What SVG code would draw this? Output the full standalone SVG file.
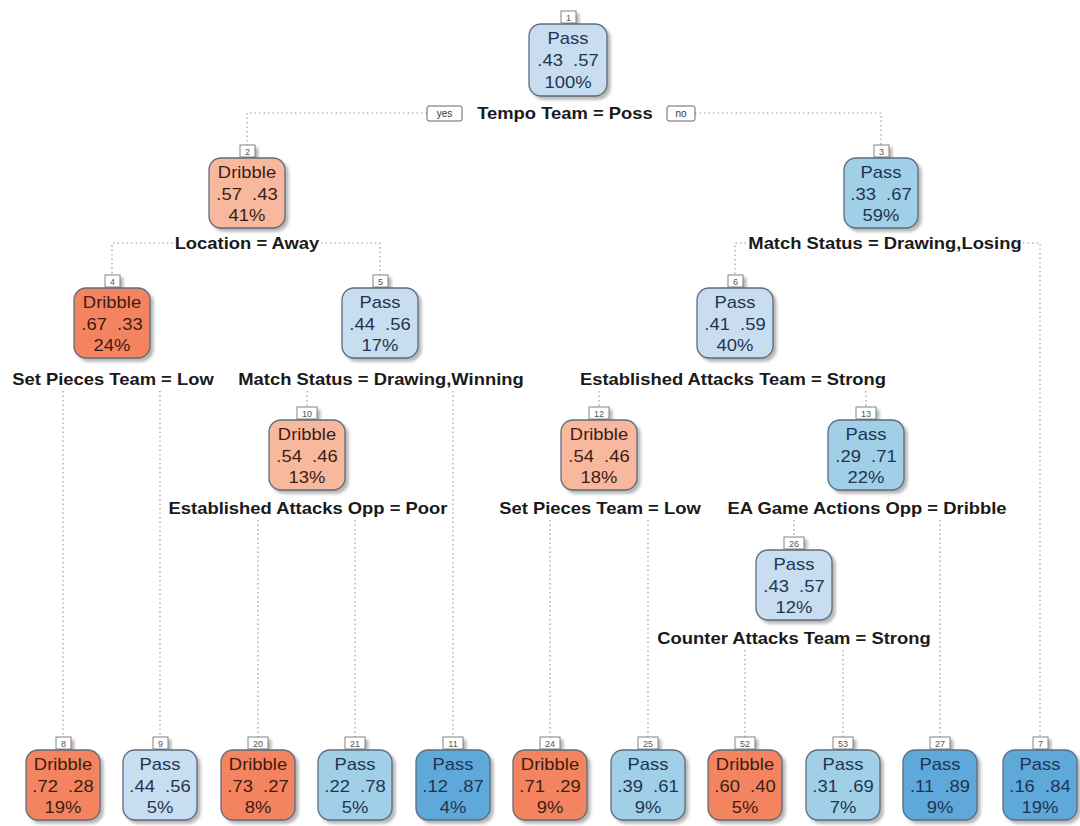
<svg xmlns="http://www.w3.org/2000/svg" width="1080" height="826" viewBox="0 0 1080 826">
<defs>
<filter id="sh" x="-20%" y="-20%" width="150%" height="150%">
<feDropShadow dx="3" dy="3" stdDeviation="1.8" flood-color="#7a7a7a" flood-opacity="0.55"/>
</filter>
<style>
text{font-family:"Liberation Sans",Arial,sans-serif;}
.t{font-size:16px;text-anchor:middle;transform-box:fill-box;transform-origin:center;transform:scaleX(1.15);}
.lab{font-size:16px;font-weight:bold;fill:#1a1a1a;text-anchor:middle;transform-box:fill-box;transform-origin:center;transform:scaleX(1.15);}
.box{stroke:#5d6c7c;stroke-width:1.3;filter:url(#sh);}
.ds{fill:#f3845f;}
.dl{fill:#f8b89e;}
.pl{fill:#c9ddf1;}
.pm{fill:#a2cfe8;}
.pd{fill:#5fa8da;}
.dt{fill:#3e1c12;}
.pt{fill:#1d3552;}
.tab{fill:#fff;stroke:#777;stroke-width:0.9;filter:url(#sh);}
.tn{font-size:9px;fill:#555;text-anchor:middle;}
.yn{fill:#fff;stroke:#555;stroke-width:0.9;}
.ynt{font-size:10px;fill:#333;text-anchor:middle;}
.c{fill:none;stroke:#9a9a9a;stroke-width:1.2;stroke-dasharray:1.5 3;}
</style>
</defs>
<rect width="1080" height="826" fill="#ffffff"/>

<g id="connectors">
<path class="c" d="M427,113 H247 V145"/>
<path class="c" d="M695,113 H881 V145"/>
<path class="c" d="M173,243 H112 V275"/>
<path class="c" d="M321,243 H380 V275"/>
<path class="c" d="M746,243 H735 V275"/>
<path class="c" d="M1023,243 H1040 V737"/>
<path class="c" d="M63,391 V737"/>
<path class="c" d="M160,391 V737"/>
<path class="c" d="M307,391 V407"/>
<path class="c" d="M453,391 V737"/>
<path class="c" d="M599,391 V407"/>
<path class="c" d="M866,391 V407"/>
<path class="c" d="M258,520 V737"/>
<path class="c" d="M355,520 V737"/>
<path class="c" d="M550,520 V737"/>
<path class="c" d="M648,520 V737"/>
<path class="c" d="M794,520 V537"/>
<path class="c" d="M940,520 V737"/>
<path class="c" d="M745,650 V737"/>
<path class="c" d="M843,650 V737"/>
</g>

<g id="labels">
<rect class="yn" x="427" y="106" width="35" height="15" rx="2"/>
<text class="ynt" x="444.5" y="117">yes</text>
<rect class="yn" x="667" y="106" width="28" height="15" rx="2"/>
<text class="ynt" x="681" y="117">no</text>
<text class="lab" x="565" y="119">Tempo Team = Poss</text>
<text class="lab" x="247" y="249">Location = Away</text>
<text class="lab" x="885" y="249">Match Status = Drawing,Losing</text>
<text class="lab" x="113" y="385">Set Pieces Team = Low</text>
<text class="lab" x="381" y="385">Match Status = Drawing,Winning</text>
<text class="lab" x="733" y="385">Established Attacks Team = Strong</text>
<text class="lab" x="308" y="514">Established Attacks Opp = Poor</text>
<text class="lab" x="600" y="514">Set Pieces Team = Low</text>
<text class="lab" x="867" y="514">EA Game Actions Opp = Dribble</text>
<text class="lab" x="794" y="644">Counter Attacks Team = Strong</text>
</g>

<g id="node1">
<rect class="tab" x="561" y="11" width="15" height="12"/><text class="tn" x="568.5" y="20.5">1</text>
<rect class="box pl" x="529" y="24" width="78" height="72" rx="12"/>
<text class="t pt" x="568" y="44">Pass</text><text class="t pt" x="568" y="66">.43 &#160;.57</text><text class="t pt" x="568" y="88">100%</text>
</g>
<g id="node2">
<rect class="tab" x="240" y="145" width="15" height="12"/><text class="tn" x="247.5" y="154.5">2</text>
<rect class="box dl" x="209" y="158" width="76" height="70" rx="12"/>
<text class="t dt" x="247" y="178">Dribble</text><text class="t dt" x="247" y="200">.57 &#160;.43</text><text class="t dt" x="247" y="221">41%</text>
</g>
<g id="node3">
<rect class="tab" x="874" y="145" width="15" height="12"/><text class="tn" x="881.5" y="154.5">3</text>
<rect class="box pm" x="844" y="158" width="74" height="70" rx="12"/>
<text class="t pt" x="881" y="178">Pass</text><text class="t pt" x="881" y="200">.33 &#160;.67</text><text class="t pt" x="881" y="221">59%</text>
</g>
<g id="node4">
<rect class="tab" x="105" y="275" width="15" height="12"/><text class="tn" x="112.5" y="284.5">4</text>
<rect class="box ds" x="74" y="288" width="76" height="70" rx="12"/>
<text class="t dt" x="112" y="308">Dribble</text><text class="t dt" x="112" y="330">.67 &#160;.33</text><text class="t dt" x="112" y="351">24%</text>
</g>
<g id="node5">
<rect class="tab" x="373" y="275" width="15" height="12"/><text class="tn" x="380.5" y="284.5">5</text>
<rect class="box pl" x="342" y="288" width="76" height="70" rx="12"/>
<text class="t pt" x="380" y="308">Pass</text><text class="t pt" x="380" y="330">.44 &#160;.56</text><text class="t pt" x="380" y="351">17%</text>
</g>
<g id="node6">
<rect class="tab" x="728" y="275" width="15" height="12"/><text class="tn" x="735.5" y="284.5">6</text>
<rect class="box pl" x="697" y="288" width="76" height="70" rx="12"/>
<text class="t pt" x="735" y="308">Pass</text><text class="t pt" x="735" y="330">.41 &#160;.59</text><text class="t pt" x="735" y="351">40%</text>
</g>
<g id="node10">
<rect class="tab" x="297" y="407" width="20" height="12"/><text class="tn" x="307" y="416.5">10</text>
<rect class="box dl" x="269" y="420" width="76" height="70" rx="12"/>
<text class="t dt" x="307" y="440">Dribble</text><text class="t dt" x="307" y="462">.54 &#160;.46</text><text class="t dt" x="307" y="483">13%</text>
</g>
<g id="node12">
<rect class="tab" x="589" y="407" width="20" height="12"/><text class="tn" x="599" y="416.5">12</text>
<rect class="box dl" x="561" y="420" width="76" height="70" rx="12"/>
<text class="t dt" x="599" y="440">Dribble</text><text class="t dt" x="599" y="462">.54 &#160;.46</text><text class="t dt" x="599" y="483">18%</text>
</g>
<g id="node13">
<rect class="tab" x="856" y="407" width="20" height="12"/><text class="tn" x="866" y="416.5">13</text>
<rect class="box pm" x="828" y="420" width="76" height="70" rx="12"/>
<text class="t pt" x="866" y="440">Pass</text><text class="t pt" x="866" y="462">.29 &#160;.71</text><text class="t pt" x="866" y="483">22%</text>
</g>
<g id="node26">
<rect class="tab" x="784" y="537" width="20" height="12"/><text class="tn" x="794" y="546.5">26</text>
<rect class="box pl" x="756" y="550" width="76" height="70" rx="12"/>
<text class="t pt" x="794" y="570">Pass</text><text class="t pt" x="794" y="592">.43 &#160;.57</text><text class="t pt" x="794" y="613">12%</text>
</g>

<g id="node8">
<rect class="tab" x="56" y="737" width="15" height="12"/><text class="tn" x="63.5" y="746.5">8</text>
<rect class="box ds" x="26" y="750" width="74" height="70" rx="12"/>
<text class="t dt" x="63" y="770">Dribble</text><text class="t dt" x="63" y="792">.72 &#160;.28</text><text class="t dt" x="63" y="813">19%</text>
</g>
<g id="node9">
<rect class="tab" x="153" y="737" width="15" height="12"/><text class="tn" x="160.5" y="746.5">9</text>
<rect class="box pl" x="123" y="750" width="74" height="70" rx="12"/>
<text class="t pt" x="160" y="770">Pass</text><text class="t pt" x="160" y="792">.44 &#160;.56</text><text class="t pt" x="160" y="813">5%</text>
</g>
<g id="node20">
<rect class="tab" x="248" y="737" width="20" height="12"/><text class="tn" x="258" y="746.5">20</text>
<rect class="box ds" x="221" y="750" width="74" height="70" rx="12"/>
<text class="t dt" x="258" y="770">Dribble</text><text class="t dt" x="258" y="792">.73 &#160;.27</text><text class="t dt" x="258" y="813">8%</text>
</g>
<g id="node21">
<rect class="tab" x="345" y="737" width="20" height="12"/><text class="tn" x="355" y="746.5">21</text>
<rect class="box pm" x="318" y="750" width="74" height="70" rx="12"/>
<text class="t pt" x="355" y="770">Pass</text><text class="t pt" x="355" y="792">.22 &#160;.78</text><text class="t pt" x="355" y="813">5%</text>
</g>
<g id="node11">
<rect class="tab" x="443" y="737" width="20" height="12"/><text class="tn" x="453" y="746.5">11</text>
<rect class="box pd" x="416" y="750" width="74" height="70" rx="12"/>
<text class="t pt" x="453" y="770">Pass</text><text class="t pt" x="453" y="792">.12 &#160;.87</text><text class="t pt" x="453" y="813">4%</text>
</g>
<g id="node24">
<rect class="tab" x="540" y="737" width="20" height="12"/><text class="tn" x="550" y="746.5">24</text>
<rect class="box ds" x="513" y="750" width="74" height="70" rx="12"/>
<text class="t dt" x="550" y="770">Dribble</text><text class="t dt" x="550" y="792">.71 &#160;.29</text><text class="t dt" x="550" y="813">9%</text>
</g>
<g id="node25">
<rect class="tab" x="638" y="737" width="20" height="12"/><text class="tn" x="648" y="746.5">25</text>
<rect class="box pm" x="611" y="750" width="74" height="70" rx="12"/>
<text class="t pt" x="648" y="770">Pass</text><text class="t pt" x="648" y="792">.39 &#160;.61</text><text class="t pt" x="648" y="813">9%</text>
</g>
<g id="node52">
<rect class="tab" x="735" y="737" width="20" height="12"/><text class="tn" x="745" y="746.5">52</text>
<rect class="box ds" x="708" y="750" width="74" height="70" rx="12"/>
<text class="t dt" x="745" y="770">Dribble</text><text class="t dt" x="745" y="792">.60 &#160;.40</text><text class="t dt" x="745" y="813">5%</text>
</g>
<g id="node53">
<rect class="tab" x="833" y="737" width="20" height="12"/><text class="tn" x="843" y="746.5">53</text>
<rect class="box pm" x="806" y="750" width="74" height="70" rx="12"/>
<text class="t pt" x="843" y="770">Pass</text><text class="t pt" x="843" y="792">.31 &#160;.69</text><text class="t pt" x="843" y="813">7%</text>
</g>
<g id="node27">
<rect class="tab" x="930" y="737" width="20" height="12"/><text class="tn" x="940" y="746.5">27</text>
<rect class="box pd" x="903" y="750" width="74" height="70" rx="12"/>
<text class="t pt" x="940" y="770">Pass</text><text class="t pt" x="940" y="792">.11 &#160;.89</text><text class="t pt" x="940" y="813">9%</text>
</g>
<g id="node7">
<rect class="tab" x="1033" y="737" width="15" height="12"/><text class="tn" x="1040.5" y="746.5">7</text>
<rect class="box pd" x="1003" y="750" width="74" height="70" rx="12"/>
<text class="t pt" x="1040" y="770">Pass</text><text class="t pt" x="1040" y="792">.16 &#160;.84</text><text class="t pt" x="1040" y="813">19%</text>
</g>
</svg>
